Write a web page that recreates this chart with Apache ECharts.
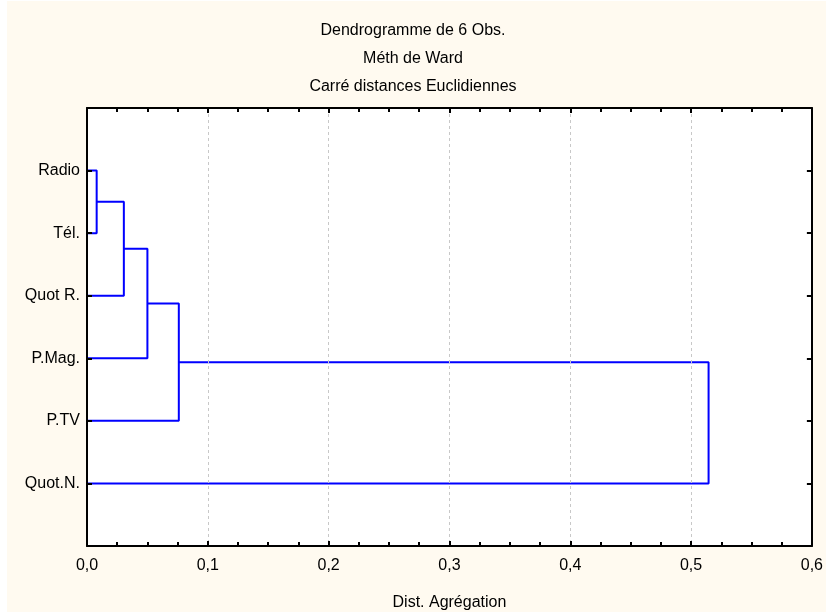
<!DOCTYPE html>
<html>
<head>
<meta charset="utf-8">
<script src="https://cdn.jsdelivr.net/npm/echarts@6/dist/echarts.min.js"></script>
<style>
html,body{margin:0;padding:0;background:#fff;}
#bg{position:absolute;left:7px;top:1px;width:819px;height:611px;background:#FFFAF0;}
#chart{position:absolute;left:0;top:0;width:826px;height:616px;}
</style>
</head>
<body>
<div id="bg"></div>
<div id="chart"></div>
<script>
// Data
const leaves = ['Radio', 'Tél.', 'Quot R.', 'P.Mag.', 'P.TV', 'Quot.N.']; // top to bottom
// merges: [childA, childB, height]; node index = leaves.length + merge index
const mergeA = [0, 6, 7, 8, 9];
const mergeB = [1, 2, 3, 4, 5];
const mergeHeight = [0.008, 0.0305, 0.050, 0.076, 0.5145];
const xTicks = [0, 0.1, 0.2, 0.3, 0.4, 0.5, 0.6];
const titleLines = ['Dendrogramme de 6 Obs.', 'Méth de Ward', 'Carré distances Euclidiennes'];
const xName = 'Dist. Agrégation';

const FONT = '"Liberation Sans", Arial, sans-serif';
const n = leaves.length;
const nodeY = [], nodeH = [];
for (let i = 0; i < n; i++) { nodeY.push(n - i); nodeH.push(0); }
const series = [];
for (let m = 0; m < mergeA.length; m++) {
  const a = mergeA[m], b = mergeB[m], h = mergeHeight[m];
  series.push({
    type: 'line', symbol: 'none', silent: true, animation: false,
    lineStyle: { color: '#0000FF', width: 2 },
    data: [[nodeH[a], nodeY[a]], [h, nodeY[a]], [h, nodeY[b]], [nodeH[b], nodeY[b]]]
  });
  nodeY.push((nodeY[a] + nodeY[b]) / 2);
  nodeH.push(h);
}

const chart = echarts.init(document.getElementById('chart'));
const axisLine = { show: true, onZero: false, lineStyle: { color: '#000', width: 2 } };
const tick = { show: true, inside: true, length: 5, lineStyle: { color: '#000', width: 2 } };
const minor = { show: true, splitNumber: 4, length: 4, lineStyle: { color: '#000', width: 2 } };
chart.setOption({
  backgroundColor: 'transparent',
  animation: false,
  title: {
    text: titleLines.join('\n'), left: 'center', top: 12,
    textStyle: { fontFamily: FONT, fontSize: 16, fontWeight: 'normal', color: '#000', lineHeight: 28 }
  },
  grid: { left: 87, right: 11, top: 108, bottom: 70, backgroundColor: '#fff', show: true, borderWidth: 0 },
  xAxis: [{
    type: 'value', min: xTicks[0], max: xTicks[xTicks.length - 1], interval: 0.1, position: 'bottom',
    name: xName, nameLocation: 'middle', nameGap: 49,
    nameTextStyle: { fontFamily: FONT, fontSize: 16, color: '#000' },
    axisLine: axisLine, axisTick: tick, minorTick: minor,
    axisLabel: { fontFamily: FONT, fontSize: 16, color: '#000', margin: 12,
      formatter: v => v.toFixed(1).replace('.', ',') },
    splitLine: { show: true, lineStyle: { color: '#c8c8c8', type: [3, 3], width: 1 } },
    z: 10
  }, {
    type: 'value', min: xTicks[0], max: xTicks[xTicks.length - 1], interval: 0.1, position: 'top',
    axisLine: axisLine, axisTick: tick, minorTick: minor,
    axisLabel: { show: false }, splitLine: { show: false }, z: 10
  }],
  yAxis: [{
    type: 'value', min: 0, max: n + 1, interval: 1, position: 'left',
    axisLine: axisLine, axisTick: tick,
    axisLabel: { fontFamily: FONT, fontSize: 16, color: '#000', margin: 7,
      formatter: v => (v >= 1 && v <= n) ? leaves[n - v] : '' },
    splitLine: { show: false }, z: 10
  }, {
    type: 'value', min: 0, max: n + 1, interval: 1, position: 'right',
    axisLine: axisLine, axisTick: tick,
    axisLabel: { show: false }, splitLine: { show: false }, z: 10
  }],
  series: series
});
</script>
</body>
</html>
